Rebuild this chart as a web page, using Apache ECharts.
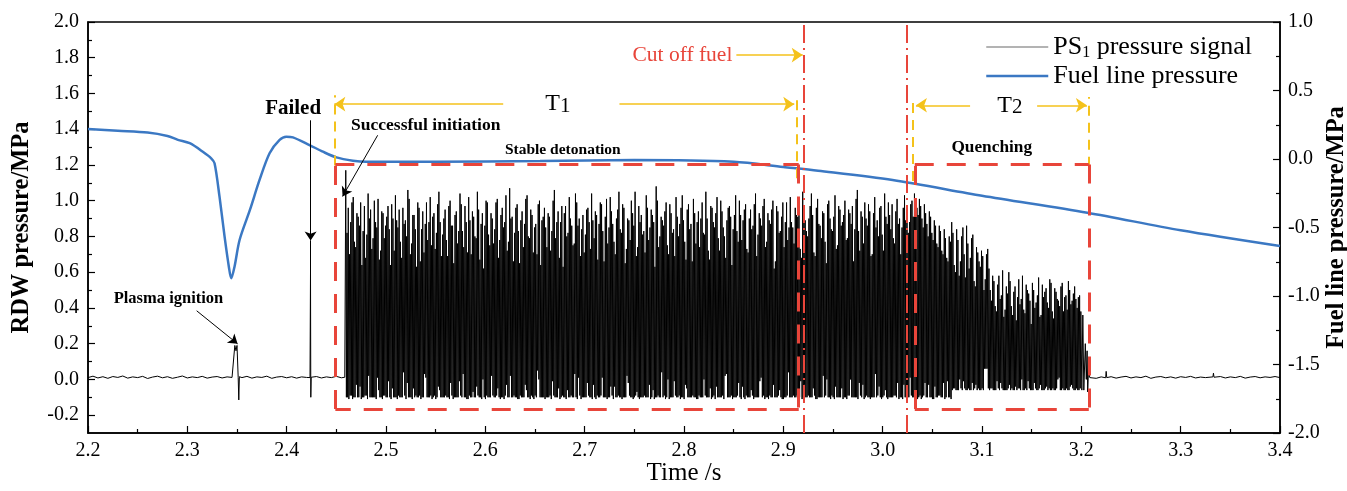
<!DOCTYPE html>
<html><head><meta charset="utf-8">
<script src="https://cdn.jsdelivr.net/npm/echarts@6/dist/echarts.min.js"></script>
<style>html,body{margin:0;padding:0;background:#fff}#c{width:1347px;height:491px}</style>
</head><body><div id="c"></div>
<script>
// ================= DATA =================
const leftTicks = [-0.2,0,0.2,0.4,0.6,0.8,1.0,1.2,1.4,1.6,1.8,2.0];
const leftMinorTicks = [-0.1,0.1,0.3,0.5,0.7,0.9,1.1,1.3,1.5,1.7,1.9];

// Fuel line pressure [time s, MPa] (right axis)
const fuelLine = [
 [2.200,0.219],[2.230,0.206],[2.260,0.193],[2.280,0.168],[2.2905,0.140],[2.3024,0.115],
 [2.3156,0.053],[2.324,0.005],[2.3274,-0.031],[2.3324,-0.275],[2.3375,-0.567],[2.3418,-0.786],
 [2.3442,-0.871],[2.3475,-0.786],[2.3526,-0.591],[2.363,-0.372],[2.3727,-0.153],[2.3828,0.042],
 [2.3929,0.139],[2.3996,0.163],[2.4063,0.158],[2.423,0.102],[2.4365,0.053],[2.450,0.012],
 [2.4667,-0.012],[2.4802,-0.020],[2.55,-0.020],[2.655,-0.015],[2.75,-0.008],[2.85,-0.020],
 [2.90,-0.058],[2.935,-0.085],[3.010,-0.153],[3.10,-0.268],[3.206,-0.392],[3.30,-0.52],[3.40,-0.635]
];

// PS1 pressure signal [time s, MPa] (left axis)
const psBaseA = [[2.200,0.010],[2.205,0.018],[2.210,0.008],[2.215,0.015],[2.220,0.006],[2.225,0.016],[2.230,0.011],[2.235,0.019],[2.240,0.007],[2.245,0.014],[2.250,0.010],[2.255,0.017],[2.260,0.005],[2.265,0.013],[2.270,0.018],[2.275,0.009],[2.280,0.015],[2.285,0.006],[2.290,0.012],[2.295,0.019],[2.300,0.008],[2.305,0.014],[2.310,0.010],[2.315,0.017],[2.320,0.007],[2.325,0.013],[2.330,0.016],[2.335,0.008],[2.340,0.014],[2.345,0.011]];
const psPlasma = [[2.3470,0.012],[2.3478,0.19],[2.3490,0.16],[2.3500,0.19],[2.3512,0.010],[2.3518,-0.115],[2.3524,0.015]];
const psBaseB = [[2.355,0.010],[2.360,0.017],[2.365,0.007],[2.370,0.014],[2.375,0.011],[2.380,0.018],[2.385,0.006],[2.390,0.013],[2.395,0.016],[2.400,0.009],[2.405,0.015],[2.410,0.007],[2.415,0.014],[2.420,0.011]];
const psFailed = [[2.4235,0.010],[2.4240,0.60],[2.4243,-0.10],[2.4247,0.012]];
const psBaseC = [[2.430,0.016],[2.435,0.008],[2.440,0.014],[2.445,0.010],[2.450,0.017],[2.455,0.009],[2.4585,0.012]];

// detonation cycles (two cycles per step): peak / trough values in 1/100 MPa
const detStart = 2.4595, detStep = 0.0025;
const peaksStable = [
 117,96,88,102,74,91,99,83,68,104,95,79,88,101,72,93,86,97,64,90,
 103,85,77,96,89,106,70,92,84,99,66,94,87,78,102,91,73,98,88,81,
 95,69,100,86,92,76,104,83,97,71,89,94,80,105,67,93,86,99,75,90,
 84,101,78,96,88,72,107,91,82,98,65,94,87,103,79,92,85,70,100,89,
 96,74,91,83,106,88,68,97,93,80,102,86,76,99,90,84,71,95,88,104,
 79,92,87,98,66,101,85,94,77,90,105,82,96,73,89,100,86,69,97,92,
 83,103,78,95,88,108,74,91,86,99,70,93,84,102,80,96,89,67,98,87,
 101,76,94,90,82,105,72,97,88,93,79,100,85,68,96,91,84,103,77,92,
 89,98,71,95,86,104,81,90,97,74,93,87,100,66,94,83,99,88,78,102,
 85,96,91,73,105,89,80,97,92,69,101,86,94,77,98,90,83,103,75,95,
 88,100,79,93,97,84,106,72,91,99,86,94,70,102,89,96,81,104,87,92,
 98,76,101,90,85,103,95,88,100
];
const peaksStableMid = [
 82,70,99,77,93,86,64,97,81,90,73,100,85,67,94,79,91,84,98,72,
 89,95,68,87,80,101,76,92,63,96,84,71,99,88,75,93,82,105,69,90,
 78,97,86,65,94,83,98,74,88,102,70,91,79,95,87,62,100,81,93,76,
 99,68,92,85,103,77,90,66,96,83,89,74,101,80,95,71,87,98,64,91,
 85,93,72,100,79,94,88,63,97,82,90,75,104,86,69,92,81,96,73,89,
 94,67,99,83,91,76,102,87,70,95,84,98,65,90,78,93,105,74,88,81,
 71,96,85,92,63,100,80,89,94,75,98,82,69,91,87,103,77,95,84,66,
 93,88,74,99,81,90,67,96,85,102,72,94,80,89,97,64,92,83,100,78,
 95,73,90,84,98,69,93,86,101,77,89,95,62,97,82,91,74,99,85,88,
 76,92,99,68,94,83,90,104,71,96,87,79,93,65,100,84,91,73,97,86,
 92,78,95,87,66,101,83,94,76,90,98,69,93,85,80,97,72,91,99,84,
 79,94,87,70,96,89,82,98,91
];
const troughsStable = [
 -10,-11,-9,-10,-3,-10,-11,-10,-9,2,-10,-10,-11,-6,-10,-9,-10,-1,-11,-10,
 -10,-9,-10,4,-11,-10,-10,-5,-9,-10,-11,-10,1,-10,-9,-10,-11,-4,-10,-10,
 -9,-10,-2,-11,-10,-10,-9,3,-10,-11,-10,-7,-10,-9,-10,0,-11,-10,-10,-9,
 -10,-5,-11,-10,-9,-10,2,-10,-10,-11,-9,-10,-3,-10,-11,-10,-9,5,-10,-10,
 -11,-10,-9,-1,-10,-10,-11,-9,-10,-6,-10,-10,3,-11,-9,-10,-10,-2,-10,-11,
 -10,-9,-10,1,-10,-11,-10,-9,-4,-10,-10,-11,-10,2,-9,-10,-10,-7,-11,-10,
 -9,-10,-3,-10,-11,-10,-10,4,-9,-10,-11,-10,-1,-10,-9,-10,-11,-5,-10,-10,
 -10,-11,-9,-10,0,-10,-10,-11,-9,-4,-10,-10,-11,3,-10,-9,-10,-10,-2,-11,
 -10,-9,-10,-6,-11,-10,-10,1,-9,-10,-11,-10,-3,-10,-9,-10,-11,-10,4,-10,
 -9,-10,-11,-1,-10,-10,-9,-10,-5,-11,-10,-10,2,-9,-10,-11,-10,-4,-10,-10,
 -11,-10,-9,0,-10,-10,-11,-9,-3,-10,-10,-11,-10,3,-9,-10,-10,-6,-11,-10,
 -10,-9,-2,-10,-11,-10,-10,1,-10
];
const troughsStableMid = [
 -10,-9,-11,-10,-10,-4,-10,-9,-11,-10,-10,-10,1,-10,-11,-9,-10,-10,-5,-10,
 -11,-10,-10,-9,-2,-10,-11,-10,-10,-9,-10,3,-10,-10,-11,-9,-10,-6,-10,-10,
 -10,-11,-9,-10,-10,-1,-10,-10,-11,-9,-10,-10,-4,-10,-11,-10,-9,-10,2,-10,
 -9,-10,-10,-11,-3,-10,-10,-9,-10,-11,-10,-10,-6,-10,-9,-11,-10,0,-10,-10,
 -10,-10,-11,-9,-10,-5,-10,-10,-11,-10,-9,-10,-10,1,-11,-10,-10,-9,-10,-3,
 -11,-10,-9,-10,-10,-10,-4,-11,-10,-9,-10,-10,-10,-2,-10,-11,-9,-10,-10,-10,
 -10,-10,-11,-6,-10,-9,-10,-10,-11,0,-10,-10,-9,-10,-11,-10,-3,-10,-10,-9,
 -10,-11,-10,-10,-9,-10,-5,-10,-11,-10,-10,-9,2,-10,-10,-11,-10,-9,-10,-4,
 -11,-10,-10,-9,-10,-10,-1,-10,-11,-10,-9,-10,-10,-10,-6,-11,-10,-9,-10,-10,
 -10,-9,-10,-11,-3,-10,-10,-10,-9,-11,-10,-10,-10,0,-10,-9,-11,-10,-10,-5,
 -10,-11,-9,-10,-10,-10,-2,-10,-11,-9,-10,-10,-10,-10,-4,-11,-9,-10,-10,-10,
 -9,-10,-11,-10,-3,-10,-10,-9,-10
];
const peaksQuenchA      = [104,96,101,90,98,87,94,82,89,76,86,72,84,68,80];
const peaksQuenchAMid   = [99,92,97,85,93,80,91,78,86,74,83,70,79,66,77];
const troughsQuenchA    = [-10,-11,-9,-10,-2,-10,-10,-11,-4,-10,-9,-10,-11,-1,-10];
const troughsQuenchAMid = [-10,-10,-11,-9,-10,-3,-10,-11,-10,-9,-10,-2,-10,-10,-11];
const peaksQuenchB      = [88,64,84,58,80,70,86,62,79,55,74,66,72,50,70];
const peaksQuenchBMid   = [82,60,78,66,85,57,76,68,81,52,71,63,69,56,73];
const troughsQuenchB    = [-6,-5,-6,0,-6,-5,-6,-6,-2,-5,-6,-6,-5,6,6];
const troughsQuenchBMid = [-5,-6,-6,-5,-1,-6,-5,-6,-6,-3,-5,-6,-6,6,-5];
const peaksQuenchC      = [62,44,55,38,58,47,35,52,60,41,49,33,56,45,39,53,48,31,50,43,57,36,46,51,40,54,34,49,44,52,38,47,55,42,48,45,46];
const peaksQuenchCMid   = [50,58,41,53,45,61,39,48,55,36,52,46,42,58,37,50,44,54,40,47,35,53,49,43,56,38,51,45,41,54,46,39,50,44,52,40,47];
const troughsQuenchC    = [-6,-5,-6,-1,-6,-5,-6,-6,-3,-5,-6,-6,-5,0,-6,-6,-5,-6,-2,-6,-5,-6,-6,-4,-5,-6,-6,-5,1,-6,-6,-5,-6,-3,-6,-5,-6];
const troughsQuenchCMid = [-5,-6,-6,-5,-2,-6,-6,-5,-6,-6,-4,-5,-6,-6,-5,-1,-6,-6,-5,-6,-3,-6,-5,-6,-6,-5,-6,0,-6,-5,-6,-6,-4,-5,-6,-6,-5];

const psTail = [[3.1995,0.38],[3.2005,-0.06],[3.2015,0.36],[3.2025,-0.06],[3.2040,0.20],[3.2050,0.0],[3.2058,0.16],[3.2064,-0.07],[3.2072,0.05],[3.2085,0.010]];
const psBaseD = [[3.210,0.012],[3.215,0.006],[3.220,0.014],[3.2245,0.009],[3.2250,0.045],[3.2256,0.010],[3.230,0.015],[3.235,0.007],[3.240,0.013],[3.245,0.017],[3.250,0.008],[3.255,0.014],[3.260,0.010],[3.265,0.018],[3.270,0.006],[3.275,0.013],[3.280,0.016],[3.285,0.009],[3.290,0.014],[3.295,0.007],[3.300,0.015],[3.305,0.011],[3.310,0.017],[3.315,0.008],[3.320,0.013],[3.325,0.010],[3.3325,0.014],[3.3330,0.035],[3.3336,0.012],[3.340,0.016],[3.345,0.008],[3.350,0.014],[3.355,0.010],[3.360,0.017],[3.365,0.007],[3.370,0.013],[3.375,0.016],[3.380,0.009],[3.385,0.014],[3.390,0.011],[3.395,0.016],[3.400,0.010]];

// ================= BUILD =================
const peaks = [].concat(peaksStable, peaksQuenchA, peaksQuenchB, peaksQuenchC);
const peaksMid = [].concat(peaksStableMid, peaksQuenchAMid, peaksQuenchBMid, peaksQuenchCMid);
const troughs = [].concat(troughsStable, troughsQuenchA, troughsQuenchB, troughsQuenchC);
const troughsMid = [].concat(troughsStableMid, troughsQuenchAMid, troughsQuenchBMid, troughsQuenchCMid);
const psDense = [];
for (let i = 0; i < peaks.length; i++) {
  const t = detStart + i * detStep;
  psDense.push([t, peaks[i] / 100]);
  psDense.push([t + detStep * 0.25, troughs[i] / 100]);
  psDense.push([t + detStep * 0.5, peaksMid[i] / 100]);
  psDense.push([t + detStep * 0.75, troughsMid[i] / 100]);
}
const psSignal = [].concat(psBaseA, psPlasma, psBaseB, psFailed, psBaseC, psDense, psTail, psBaseD);

// ================= STYLE / ANNOTATIONS =================
const FONT = "'Liberation Serif','Times New Roman',serif";
const RED = '#e8453a', YEL = '#f4c21b', BLUE = '#3b78c3';

const redBoxes = [
  {t0:2.449, t1:2.9155, v0:-0.166, v1:1.203},
  {t0:3.0323, t1:3.2075, v0:-0.166, v1:1.203}
];
const cutLines = [2.921, 3.024];
const yellowV = [[2.448,1.197,1.59],[2.9135,1.125,1.574],[3.0305,1.11,1.58],[3.2075,1.19,1.58]];
const yellowArrows = [
  [[2.618,1.54],[2.448,1.54]], [[2.735,1.54],[2.911,1.54]],
  [[3.088,1.534],[3.0335,1.534]], [[3.1555,1.534],[3.2056,1.534]],
  [[2.8527,1.815],[2.9195,1.815]]
];
const blackArrows = [
  [[2.4916,1.366],[2.4563,1.024]],
  [[2.3094,0.384],[2.3506,0.199]],
  [[2.4241,1.45],[2.4241,0.777]]
];
const blackLines = [[[2.4241,0.777],[2.4241,0.59]]];
const annoTexts = [
  {text:'Failed', at:[2.4065,1.517], size:21, bold:true},
  {text:'Successful initiation', at:[2.540,1.422], size:17.5, bold:true},
  {text:'Stable detonation', at:[2.678,1.282], size:15.5, bold:true},
  {text:'Plasma ignition', at:[2.281,0.451], size:16.5, bold:true},
  {text:'Quenching', at:[3.1098,1.30], size:17.3, bold:true},
  {text:'Cut off fuel', at:[2.8487,1.815], size:21.5, color:RED, align:'right'}
];
const periodLabels = [{n:'1', at:[2.673,1.54]}, {n:'2', at:[3.128,1.534]}];

const boxSegs = [];
redBoxes.forEach(b => {
  boxSegs.push([{coord:[b.t0,b.v1]},{coord:[b.t1,b.v1]}]);
  boxSegs.push([{coord:[b.t1,b.v1]},{coord:[b.t1,b.v0]}]);
  boxSegs.push([{coord:[b.t1,b.v0]},{coord:[b.t0,b.v0]}]);
  boxSegs.push([{coord:[b.t0,b.v0]},{coord:[b.t0,b.v1]}]);
});
const segs = arr => arr.map(s => [{coord:s[0]},{coord:s[1]}]);

function mlSeries(name, data, lineStyle, symbol, symbolSize, z) {
  return {name, type:'line', data:[], xAxisIndex:0, yAxisIndex:0, z:z||5, silent:true,
    markLine:{silent:true, animation:false, symbol:symbol, symbolSize:symbolSize||8,
      label:{show:false}, emphasis:{disabled:true}, lineStyle:lineStyle, data:data, z:z||5}};
}

const axisBlack = {color:'#000', width:1.5};
const tickBlack = {color:'#000', width:1.2};

const chart = echarts.init(document.getElementById('c'), null, {renderer:'canvas'});
const option = {
  animation:false,
  backgroundColor:'#fff',
  grid:{left:88, right:67, top:22, bottom:58, show:true, borderColor:'#000', borderWidth:1.5,
        containLabel:false, outerBoundsMode:'none'},
  legend:{
    orient:'vertical', left:980, top:29, itemWidth:62, itemHeight:14, itemGap:2,
    data:[
      {name:'PS1 pressure signal', itemStyle:{opacity:0}, lineStyle:{color:'#9a9a9a', width:1.5}},
      {name:'Fuel line pressure', itemStyle:{opacity:0}, lineStyle:{color:BLUE, width:2.5}}
    ],
    formatter: n => n === 'PS1 pressure signal' ? '{a|PS}{s|1}{a| pressure signal}' : '{a|Fuel line pressure}',
    textStyle:{fontFamily:FONT, fontSize:26, color:'#000',
      rich:{a:{fontFamily:FONT, fontSize:26, lineHeight:28, color:'#000'},
            s:{fontFamily:FONT, fontSize:16, lineHeight:16, verticalAlign:'bottom', color:'#000'}}}
  },
  xAxis:{
    type:'value', min:2.2, max:3.4, interval:0.1,
    axisLine:{onZero:false, lineStyle:axisBlack},
    axisTick:{inside:true, length:7, lineStyle:tickBlack},
    minorTick:{show:true, splitNumber:2, length:4, lineStyle:tickBlack},
    splitLine:{show:false},
    axisLabel:{color:'#000', fontFamily:FONT, fontSize:20, margin:8, formatter:v => v.toFixed(1)},
    name:'Time /s', nameLocation:'middle', nameGap:28, nameMoveOverlap:false,
    nameTextStyle:{fontFamily:FONT, fontSize:25, color:'#000'}
  },
  yAxis:[
    {type:'value', position:'left', min:-0.3, max:2.0,
     axisLine:{show:true, onZero:false, lineStyle:axisBlack},
     axisTick:{show:true, inside:true, length:7, lineStyle:tickBlack, customValues:leftTicks},
     splitLine:{show:false},
     axisLabel:{color:'#000', fontFamily:FONT, fontSize:20, margin:9, customValues:leftTicks, formatter:v => v.toFixed(1)},
     name:'RDW pressure/MPa', nameLocation:'middle', nameRotate:90, nameGap:54, nameMoveOverlap:false,
     nameTextStyle:{fontFamily:FONT, fontSize:24.5, fontWeight:'bold', color:'#000'}},
    {type:'value', position:'right', min:-2.0, max:1.0, interval:0.5,
     axisLine:{show:true, onZero:false, lineStyle:axisBlack},
     axisTick:{show:true, inside:true, length:7, lineStyle:tickBlack},
     minorTick:{show:true, splitNumber:2, length:4, lineStyle:tickBlack},
     splitLine:{show:false},
     axisLabel:{color:'#000', fontFamily:FONT, fontSize:20, margin:8, formatter:v => v.toFixed(1)},
     name:'Fuel line pressure/MPa', nameLocation:'middle', nameRotate:90, nameGap:44, nameMoveOverlap:false,
     nameTextStyle:{fontFamily:FONT, fontSize:24.5, fontWeight:'bold', color:'#000'}},
    {type:'value', position:'left', min:-0.3, max:2.0,
     axisLine:{show:false, onZero:false},
     axisTick:{show:true, inside:true, length:4, lineStyle:tickBlack, customValues:leftMinorTicks},
     splitLine:{show:false},
     axisLabel:{show:false}}
  ],
  series:[
    {name:'PS1 pressure signal', type:'line', xAxisIndex:0, yAxisIndex:0, data:psSignal,
     showSymbol:false, symbol:'none', sampling:null, z:2, silent:true, progressive:0,
     lineStyle:{color:'#000', width:1}, itemStyle:{color:'#000'}},
    {name:'Fuel line pressure', type:'line', xAxisIndex:0, yAxisIndex:1, data:fuelLine,
     showSymbol:false, symbol:'none', smooth:0.3, z:3, silent:true,
     lineStyle:{color:BLUE, width:2.5}, itemStyle:{color:BLUE}},
    mlSeries('boxes', boxSegs, {color:RED, width:3, type:[19,13]}, ['none','none'], 8, 6),
    mlSeries('cuts', cutLines.map(t => [{coord:[t,-0.3]},{coord:[t,2.0]}]), {color:RED, width:2, type:[18,5,2,5]}, ['none','none'], 8, 6),
    mlSeries('yv', yellowV.map(s => [{coord:[s[0],s[1]]},{coord:[s[0],s[2]]}]), {color:YEL, width:2, type:[10,7]}, ['none','none'], 8, 5),
    mlSeries('ya', segs(yellowArrows), {color:YEL, width:1.5, type:'solid'}, ['none','arrow'], 11, 7),
    mlSeries('ba', segs(blackArrows), {color:'#000', width:1, type:'solid'}, ['none','arrow'], 9, 7),
    mlSeries('bl', segs(blackLines), {color:'#000', width:1, type:'solid'}, ['none','none'], 8, 7)
  ]
};
chart.setOption(option);

function px(p){ return chart.convertToPixel({xAxisIndex:0, yAxisIndex:0}, p); }
const graphics = annoTexts.map(a => {
  const p = px(a.at);
  const font = (a.bold ? 'bold ' : '') + a.size + 'px ' + FONT;
  return {type:'text', x:p[0], y:p[1], z:100, silent:true,
    style:{text:a.text, fill:a.color || '#000', font:font,
      align:a.align || 'center', verticalAlign:'middle', textAlign:a.align || 'center', textVerticalAlign:'middle'}};
});
periodLabels.forEach(l => {
  const p = px(l.at);
  graphics.push({type:'text', x:p[0], y:p[1], z:100, silent:true,
    style:{text:'{a|T}{s|' + l.n + '}', align:'center', verticalAlign:'middle', textAlign:'center', textVerticalAlign:'middle',
      rich:{a:{fontSize:24, fontFamily:FONT, fill:'#000', color:'#000', lineHeight:26},
            s:{fontSize:21, fontFamily:FONT, fill:'#000', color:'#000', lineHeight:22, verticalAlign:'bottom'}}}});
});
chart.setOption({graphic:graphics});
</script></body></html>
